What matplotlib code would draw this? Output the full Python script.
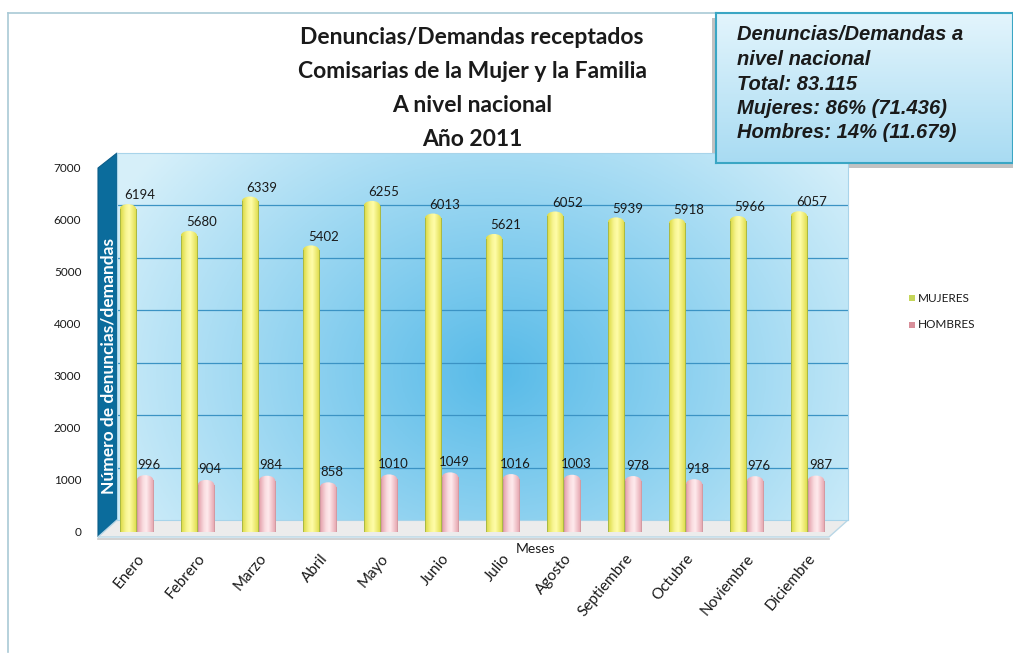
import numpy as np
import matplotlib
matplotlib.use("Agg")
import matplotlib.pyplot as plt
from matplotlib.patches import Polygon, Ellipse, Rectangle

# ---------------- data ----------------
meses = ["Enero", "Febrero", "Marzo", "Abril", "Mayo", "Junio", "Julio",
         "Agosto", "Septiembre", "Octubre", "Noviembre", "Diciembre"]
mujeres = [6194, 5680, 6339, 5402, 6255, 6013, 5621, 6052, 5939, 5918, 5966, 6057]
hombres = [996, 904, 984, 858, 1010, 1049, 1016, 1003, 978, 918, 976, 987]
yticks = [0, 1000, 2000, 3000, 4000, 5000, 6000, 7000]
title_lines = ["Denuncias/Demandas receptados",
               "Comisarias de la Mujer y la Familia",
               "A nivel nacional",
               "Año 2011"]
box_lines = ["Denuncias/Demandas a", "nivel nacional", "Total: 83.115",
             "Mujeres: 86% (71.436)", "Hombres: 14% (11.679)"]
legend_labels = ["MUJERES", "HOMBRES"]

W, H = 1013, 653
fig = plt.figure(figsize=(W / 100, H / 100), dpi=100)
fig.patch.set_facecolor("white")


def px(x0, y0, x1, y1):
    return [x0 / W, 1 - y1 / H, (x1 - x0) / W, (y1 - y0) / H]


FONT = "Lato"

# ---------------- overlay axes in pixel coords ----------------
bg = fig.add_axes([0, 0, 1, 1], zorder=0)
bg.set_xlim(0, W)
bg.set_ylim(H, 0)
bg.axis("off")
bg.plot([8, 716], [13, 13], color="#a9c9d6", lw=1.2)
bg.plot([8, 8], [13, 652], color="#a9c9d6", lw=1.2)

# ---------------- back wall ----------------
wall = fig.add_axes(px(117, 153, 848, 520), zorder=1)
xx, yy = np.meshgrid(np.linspace(0, 1, 300), np.linspace(0, 1, 150))
d = np.sqrt(((xx - 0.52) / 0.6) ** 2 + ((yy - 0.6) / 0.95) ** 2)
t = np.clip(d, 0, 1)
c_dark = np.array([0.34, 0.73, 0.91])
c_light = np.array([0.84, 0.94, 0.98])
img = c_dark[None, None, :] * (1 - t[..., None]) + c_light[None, None, :] * t[..., None]
wall.imshow(img, extent=[0, 1, 0, 7000], aspect="auto", origin="upper")
wall.set_xlim(0, 1)
wall.set_ylim(0, 7000)
for v in yticks[1:-1]:
    wall.axhline(v, color="#3b93c4", lw=0.9)
wall.set_xticks([])
wall.set_yticks([])
for s in wall.spines.values():
    s.set_color("#a8d4ea")
    s.set_linewidth(0.8)

# side panel and floor
bg.add_patch(Polygon([(98, 168), (117, 153), (117, 520), (98, 537)],
                     closed=True, facecolor="#0b6c9c", edgecolor="#0b5c88",
                     lw=0.8, zorder=2))
bg.add_patch(Polygon([(98, 537), (117, 520), (848, 520), (829, 537)],
                     closed=True, facecolor="#ececec", edgecolor="#b9d7e6",
                     lw=1.0, zorder=2))
bg.plot([98, 829], [538.5, 538.5], color="#c9c9c9", lw=1.2, zorder=2)
bg.text(108, 366, "Número de denuncias/demandas", rotation=90, color="white",
        fontsize=12.5, fontweight="bold", fontfamily=FONT,
        ha="center", va="center", zorder=3)

# ---------------- main axes (bars) ----------------
ax = fig.add_axes(px(98, 167, 848, 532), zorder=3)
ax.patch.set_alpha(0)
x0 = 136.5
for s in ax.spines.values():
    s.set_visible(False)

x = np.arange(len(meses))
bw = 0.27
off = 0.14


def cyl_grad(edge, hi):
    edge, hi = np.array(edge), np.array(hi)
    u = np.linspace(0, 1, 64)
    prof = np.interp(u, [0, 0.35, 0.55, 1.0], [0, 0.8, 1.0, 0.05])
    cols = edge[None, :] * (1 - prof[:, None]) + hi[None, :] * prof[:, None]
    return cols[None, :, :]


yel = cyl_grad((0.86, 0.85, 0.25), (1.0, 0.99, 0.66))
pnk = cyl_grad((0.89, 0.62, 0.66), (1.0, 0.92, 0.93))

cap_h = 190


def draw_series(xs, vals, grad, edgec):
    bars = ax.bar(xs, vals, width=bw, color="none", edgecolor="none", zorder=4)
    for b in bars:
        bx, bwid, bh = b.get_x(), b.get_width(), b.get_height()
        im = ax.imshow(grad, extent=[bx, bx + bwid, 0, bh], aspect="auto",
                       zorder=4, interpolation="bilinear")
        im.set_clip_path(b)
        ell = Ellipse((bx + bwid / 2, bh), bwid, cap_h, facecolor="none",
                      edgecolor="none", zorder=5)
        ax.add_patch(ell)
        im2 = ax.imshow(grad, extent=[bx, bx + bwid, bh - cap_h, bh + cap_h],
                        aspect="auto", zorder=5, interpolation="bilinear")
        im2.set_clip_path(ell)
        ax.plot([bx, bx], [0, bh], color=edgec, lw=0.7, zorder=6)
        ax.plot([bx + bwid, bx + bwid], [0, bh], color=edgec, lw=0.7, zorder=6)
    return bars


draw_series(x - off, mujeres, yel, "#a9b844")
draw_series(x + off, hombres, pnk, "#d39aa2")
ax.set_xlim((98 - x0) / 61, (848 - x0) / 61)
ax.set_ylim(0, 7000)

for i in range(len(meses)):
    ax.text(x[i] - off + 0.2, mujeres[i] + 150, f"{mujeres[i]}", ha="center",
            va="bottom", fontsize=9.5, fontfamily=FONT, color="#1a1a1a", zorder=7)
    ax.text(x[i] + off + 0.07, hombres[i] + 180, f"{hombres[i]}", ha="center",
            va="bottom", fontsize=9.5, fontfamily=FONT, color="#1a1a1a", zorder=7)

ax.set_yticks(yticks)
ax.set_yticklabels([str(v) for v in yticks], fontsize=8.5, fontfamily=FONT,
                   color="#1a1a1a")
ax.tick_params(axis="y", length=0, pad=12)
ax.set_xticks(x)
ax.set_xticklabels(meses, rotation=50, ha="right", rotation_mode="anchor",
                   fontsize=11, fontfamily=FONT, color="#1a1a1a")
ax.tick_params(axis="x", length=0, pad=14)

bg.text(536, 549, "Meses", fontsize=10, fontfamily=FONT, ha="center",
        va="center", color="#1a1a1a", zorder=7)

# ---------------- title ----------------
for k, line in enumerate(title_lines):
    bg.text(472, 38 + 34 * k, line, fontsize=16.5, fontweight="bold",
            fontfamily=FONT, ha="center", va="center", color="#1a1a1a",
            zorder=3)

# ---------------- legend ----------------
for k, (lab, col) in enumerate(zip(legend_labels, ["#c5d65a", "#d88f9a"])):
    yy_ = 298 + 27 * k
    bg.add_patch(Rectangle((909, yy_ - 3), 6, 6, facecolor=col,
                           edgecolor="none", zorder=3))
    bg.text(918, yy_, lab, fontsize=8.5, fontfamily=FONT, va="center",
            ha="left", color="#1a1a1a", zorder=3)

# ---------------- info box ----------------
bg.add_patch(Rectangle((712, 18), 310, 150, facecolor="#9a9a9a",
                       edgecolor="none", alpha=0.6, zorder=3))
box = fig.add_axes(px(716, 13, 1013, 163), zorder=4)
gy = np.linspace(0, 1, 100)[:, None]
c_top = np.array([0.89, 0.96, 0.99])
c_bot = np.array([0.66, 0.86, 0.95])
gimg = c_top[None, None, :] * (1 - gy[..., None]) + c_bot[None, None, :] * gy[..., None]
gimg = np.repeat(gimg, 4, axis=1)
box.imshow(gimg, extent=[0, 1, 0, 1], aspect="auto", origin="upper")
box.set_xlim(0, 1)
box.set_ylim(0, 1)
box.set_xticks([])
box.set_yticks([])
for s in box.spines.values():
    s.set_color("#3aa6c4")
    s.set_linewidth(1.5)
for k, line in enumerate(box_lines):
    box.text((737 - 716) / 297, 1 - (35 + 24.5 * k - 13) / 150, line,
             fontsize=14.5, fontweight="bold", fontstyle="italic",
             fontfamily="Liberation Sans", ha="left", va="center",
             color="#1a1a1a", transform=box.transAxes)

fig.savefig("out.png", dpi=100, facecolor="white")
